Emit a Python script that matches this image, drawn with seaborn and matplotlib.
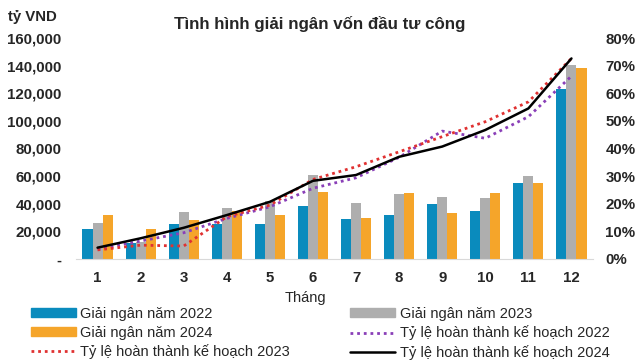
import numpy as np
import pandas as pd
import matplotlib
matplotlib.use('Agg')
import matplotlib.pyplot as plt
import seaborn as sns
from matplotlib.ticker import FuncFormatter
from matplotlib.patches import Patch
from matplotlib.lines import Line2D

months = ['1', '2', '3', '4', '5', '6', '7', '8', '9', '10', '11', '12']

# giai ngan (ty VND)
gn_2022 = [22000, 11500, 25500, 25500, 25500, 38500, 29000, 31500, 39700, 35000, 55000, 123400]
gn_2023 = [26000, 12000, 34000, 36600, 41700, 61000, 40500, 47000, 45000, 44000, 60000, 140400]
gn_2024 = [31500, 21600, 28000, 35000, 32000, 48500, 30000, 48000, 33500, 48000, 55000, 138000]

# ty le hoan thanh ke hoach (%)
tl_2022 = [3.6, 6.5, 9.5, 14.7, 18.9, 25.6, 29.4, 36.8, 46.3, 43.7, 51.5, 66.2]
tl_2023 = [3.3, 5.0, 4.7, 15.3, 19.5, 28.8, 33.4, 38.8, 44.3, 49.7, 56.9, 72.6]
tl_2024 = [4.1, 7.5, 11.3, 15.9, 20.7, 28.3, 30.4, 37.0, 40.7, 46.7, 54.5, 72.6]

bar_labels = ['Giải ngân năm 2022', 'Giải ngân năm 2023', 'Giải ngân năm 2024']
line_labels = ['Tỷ lệ hoàn thành kế hoạch 2022', 'Tỷ lệ hoàn thành kế hoạch 2023',
               'Tỷ lệ hoàn thành kế hoạch 2024']

df = pd.DataFrame({'Tháng': months * 3,
                   'value': gn_2022 + gn_2023 + gn_2024,
                   'series': [bar_labels[0]] * 12 + [bar_labels[1]] * 12 + [bar_labels[2]] * 12})

sns.set_style('white')
plt.rcParams['font.family'] = ['Liberation Sans', 'DejaVu Sans']

fig = plt.figure(figsize=(6.4, 3.6), dpi=100)
ax = fig.add_axes([76 / 640, 1 - 259 / 360, 517 / 640, 221 / 360])

bar_colors = ['#0A8BBD', '#AEAEAE', '#F5A52A']
sns.barplot(data=df, x='Tháng', y='value', hue='series', palette=bar_colors,
            width=0.7, ax=ax, legend=False, saturation=1, linewidth=0)
ax.set_ylim(0, 160000)
ax.set_yticks(np.arange(0, 160001, 20000))
ax.yaxis.set_major_formatter(FuncFormatter(lambda v, p: '-' if v == 0 else f'{v:,.0f}'))
ax.set_ylabel('')
ax.set_xlabel('Tháng', fontsize=10.5)
ax.xaxis.set_label_coords(229 / 517, (259 - 298) / 221)
ax.xaxis.label.set_va('center')
ax.tick_params(axis='y', length=0, pad=10.5, labelsize=10.8)
ax.tick_params(axis='x', length=0, pad=9, labelsize=10.8)
for lab in ax.get_yticklabels() + ax.get_xticklabels():
    lab.set_fontweight('bold')
for s in ['left', 'right', 'top']:
    ax.spines[s].set_visible(False)
ax.spines['bottom'].set_color('#D9D9D9')

ax2 = ax.twinx()
x = np.arange(12)
sns.lineplot(x=x, y=tl_2022, ax=ax2, color='#8A3FB8', lw=2, linestyle=(0, (1, 1.4)))
sns.lineplot(x=x, y=tl_2023, ax=ax2, color='#E03131', lw=2, linestyle=(0, (1, 1.4)))
sns.lineplot(x=x, y=tl_2024, ax=ax2, color='black', lw=1.8)
ax2.set_ylim(0, 80)
ax2.set_yticks(np.arange(0, 81, 10))
ax2.yaxis.set_major_formatter(FuncFormatter(lambda v, p: f'{v:.0f}%'))
ax2.tick_params(axis='y', length=0, pad=9, labelsize=10.8)
for lab in ax2.get_yticklabels():
    lab.set_fontweight('bold')
for s in ['left', 'right', 'top', 'bottom']:
    ax2.spines[s].set_visible(False)
ax2.grid(False)
ax.set_xlim(-0.5, 11.5)

fig.text(320 / 640, 1 - 24 / 360, 'Tình hình giải ngân vốn đầu tư công',
         ha='center', va='center', fontsize=12.2, fontweight='bold')
fig.text(8 / 640, 1 - 17 / 360, 'tỷ VND', ha='left', va='center',
         fontsize=10.8, fontweight='bold')

# legend handles, row-major order in two columns
h_bar = [Patch(color=c) for c in bar_colors]
h_line = [Line2D([], [], color='#8A3FB8', lw=2, linestyle=(0, (1, 1.4))),
          Line2D([], [], color='#E03131', lw=2, linestyle=(0, (1, 1.4))),
          Line2D([], [], color='black', lw=1.8)]
handles = [h_bar[0], h_bar[2], h_line[1], h_bar[1], h_line[0], h_line[2]]
labels = [bar_labels[0], bar_labels[2], line_labels[1], bar_labels[1], line_labels[0], line_labels[2]]
fig.legend(handles, labels, loc='upper left', bbox_to_anchor=(25 / 640, 1 - 301 / 360),
           ncol=2, frameon=False, fontsize=10.5, handlelength=3.1, handleheight=0.55,
           labelspacing=0.32, columnspacing=4.1, handletextpad=0.3, borderaxespad=0)

fig.savefig('out.png', dpi=100)
